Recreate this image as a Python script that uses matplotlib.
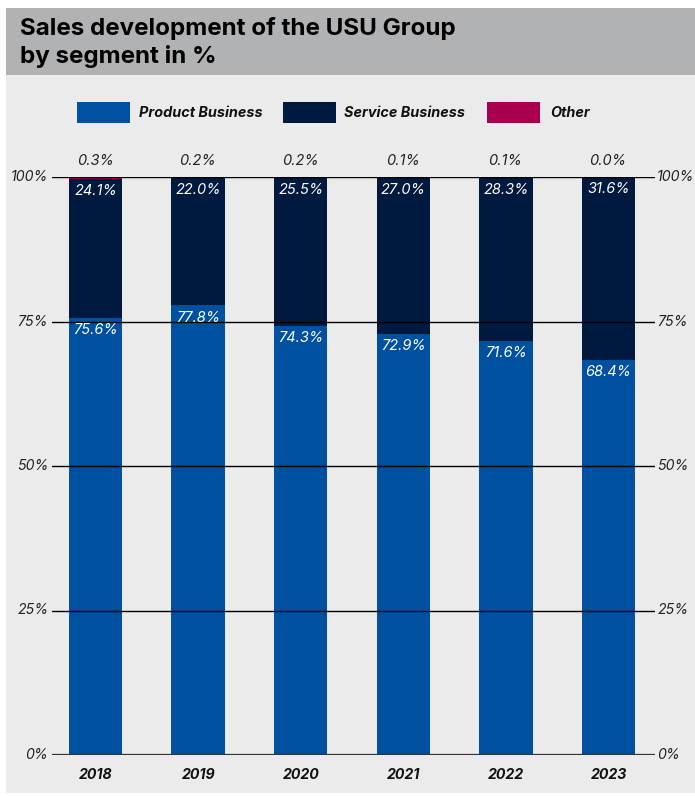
import matplotlib
matplotlib.use("Agg")
import matplotlib.pyplot as plt
from matplotlib.patches import Rectangle

plt.rcParams['font.family'] = ['Inter', 'DejaVu Sans']

years = ["2018", "2019", "2020", "2021", "2022", "2023"]
product = [75.6, 77.8, 74.3, 72.9, 71.6, 68.4]
service = [24.1, 22.0, 25.5, 27.0, 28.3, 31.6]
other = [0.3, 0.2, 0.2, 0.1, 0.1, 0.0]
series_names = ["Product Business", "Service Business", "Other"]
yticks = [0, 25, 50, 75, 100]

C_PROD = "#0050a0"
C_SERV = "#00193f"
C_OTHER = "#a8004f"
BG = "#ebebeb"
HEAD = "#b1b2b4"

W, H = 695, 796
fig = plt.figure(figsize=(W / 100, H / 100), dpi=100)
fig.patch.set_facecolor("white")


def fx(px):
    return px / W


def fy(py):
    return 1 - py / H


# panel background and header band
fig.add_artist(Rectangle((fx(6), fy(793)), fx(W) - fx(6), fy(75) - fy(793),
                         transform=fig.transFigure, facecolor=BG, edgecolor="none", zorder=0))
fig.add_artist(Rectangle((fx(6), fy(75)), fx(W) - fx(6), fy(8) - fy(75),
                         transform=fig.transFigure, facecolor=HEAD, edgecolor="none", zorder=0))
fig.text(fx(20), fy(29), "Sales development of the USU Group", fontsize=17.4,
         fontweight="bold", va="center", ha="left", color="black")
fig.text(fx(20), fy(57), "by segment in %", fontsize=17.4,
         fontweight="bold", va="center", ha="left", color="black")

# legend
legend_items = [(77, C_PROD, 139), (283, C_SERV, 344), (487, C_OTHER, 550)]
for (px, col, tx), name in zip(legend_items, series_names):
    fig.add_artist(Rectangle((fx(px), fy(123)), fx(53), fy(102) - fy(123),
                             transform=fig.transFigure, facecolor=col, edgecolor="none"))
    fig.text(fx(tx), fy(113), name, fontsize=10.4, fontweight="bold", style="italic",
             va="center", ha="left", color="#111111")

# chart area
left, right, top, bottom = 52, 655, 177, 755
ax = fig.add_axes([fx(left), fy(bottom), fx(right) - fx(left), fy(top) - fy(bottom)])
ax.set_facecolor("none")
ax.set_xlim(-0.424, 5.453)
ax.set_ylim(0, 100)
for s in ax.spines.values():
    s.set_visible(False)
ax.set_xticks([])
ax.set_yticks([])

x = list(range(len(years)))
bw = 0.52
bottoms2 = product
bottoms3 = [p + s for p, s in zip(product, service)]
ax.bar(x, product, width=bw, color=C_PROD, zorder=2)
ax.bar(x, service, width=bw, bottom=bottoms2, color=C_SERV, zorder=2)
ax.bar(x, other, width=bw, bottom=bottoms3, color=C_OTHER, zorder=2)

for yv in yticks:
    lw = 1.6 if yv == 0 else 1.0
    col = "#333333" if yv == 0 else "black"
    ax.axhline(yv, color=col, lw=lw, zorder=3)
    ax.text(-0.46, yv, f"{yv}%", ha="right", va="center", fontsize=10.2,
            style="italic", color="#222222", clip_on=False)
    ax.text(5.475, yv, f"{yv}%", ha="left", va="center", fontsize=10.2,
            style="italic", color="#222222", clip_on=False)

for i in x:
    ax.text(i, product[i] - 0.9, f"{product[i]:.1f}%", ha="center", va="top",
            fontsize=10.5, style="italic", color="white", zorder=4)
    ax.text(i, bottoms3[i] - 0.9, f"{service[i]:.1f}%", ha="center", va="top",
            fontsize=10.5, style="italic", color="white", zorder=4)
    ax.text(i, 102.8, f"{other[i]:.1f}%", ha="center", va="center",
            fontsize=10.5, style="italic", color="#222222", clip_on=False)
    ax.text(i, -3.5, years[i], ha="center", va="center", fontsize=10.2,
            fontweight="bold", style="italic", color="#111111", clip_on=False)

fig.savefig("out.png", dpi=100, facecolor=fig.get_facecolor())
